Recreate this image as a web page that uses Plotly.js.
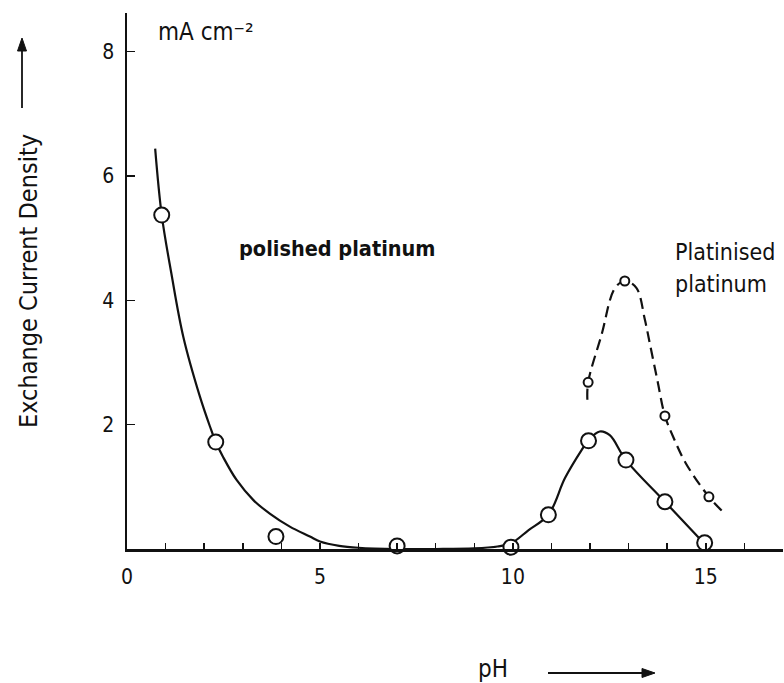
<!DOCTYPE html>
<html>
<head>
<meta charset="utf-8">
<script src="https://cdn.plot.ly/plotly-3.0.1.min.js"></script>
<style>html,body{margin:0;padding:0;background:#fff;}#chart{width:784px;height:683px;}</style>
</head>
<body>
<div id="chart"></div>
<script>
// Measured points, polished platinum
var polishedX = [0.90, 2.30, 3.86, 7.0, 9.95, 10.92, 11.96, 12.93, 13.94, 14.97];
var polishedY = [5.37, 1.72, 0.20, 0.05, 0.03, 0.55, 1.74, 1.43, 0.76, 0.10];
// Fitted curve, polished platinum
var polishedCurveX = [0.73, 0.90, 1.15, 1.46, 1.89, 2.15, 2.30, 2.49, 2.84, 3.27, 3.70, 4.22, 4.74, 5.0, 5.5, 6.0, 7.0, 8.0, 9.0, 9.6, 9.95, 10.4, 10.92, 11.35, 11.78, 11.96, 12.25, 12.51, 12.93, 13.94, 14.97];
var polishedCurveY = [6.44, 5.37, 4.43, 3.41, 2.45, 1.97, 1.72, 1.48, 1.11, 0.79, 0.57, 0.36, 0.20, 0.12, 0.05, 0.02, 0.0, 0.0, 0.01, 0.04, 0.09, 0.30, 0.55, 1.14, 1.59, 1.75, 1.89, 1.83, 1.43, 0.76, 0.08];
// Measured points, platinised platinum
var platinisedX = [11.95, 12.9, 13.94, 15.08];
var platinisedY = [2.68, 4.31, 2.14, 0.84];
// Fitted curve, platinised platinum
var platinisedCurveX = [11.93, 11.95, 12.3, 12.64, 12.9, 13.2, 13.42, 13.55, 13.74, 13.94, 14.15, 14.48, 15.08, 15.49];
var platinisedCurveY = [2.40, 2.68, 3.45, 4.19, 4.31, 4.20, 3.69, 3.30, 2.73, 2.14, 1.81, 1.38, 0.84, 0.57];
// Ticks
var xTickVals = [0, 5, 10, 15];
var xTickText = ['0', '5', '10', '15'];
var yTickVals = [2, 4, 6, 8];
var yTickText = ['2', '4', '6', '8'];

var F = "'DejaVu Sans Condensed', 'Liberation Sans Narrow', sans-serif";
var ink = '#111';

// plot-area geometry helpers (pixel -> paper) for decorations outside the axes
var L = 127, T = 13, W = 656, H = 536;
function px(p) { return (p - L) / W; }
function py(p) { return (T + H - p) / H; }

var traces = [
  {x: polishedCurveX, y: polishedCurveY, mode: 'lines', line: {color: ink, width: 2.2, shape: 'spline', smoothing: 1}, cliponaxis: false, hoverinfo: 'skip', showlegend: false},
  {x: platinisedCurveX, y: platinisedCurveY, mode: 'lines', line: {color: ink, width: 2.2, shape: 'spline', smoothing: 1, dash: '11px,6px'}, cliponaxis: false, hoverinfo: 'skip', showlegend: false},
  {x: polishedX, y: polishedY, mode: 'markers', name: 'polished platinum', marker: {symbol: 'circle', size: 15, color: '#fff', line: {color: ink, width: 2}}, cliponaxis: false, showlegend: false},
  {x: platinisedX, y: platinisedY, mode: 'markers', name: 'Platinised platinum', marker: {symbol: 'circle', size: 9, color: '#fff', line: {color: ink, width: 2}}, cliponaxis: false, showlegend: false}
];

var layout = {
  width: 784, height: 683,
  margin: {l: L, r: 784 - L - W, t: T, b: 683 - T - H},
  paper_bgcolor: '#fff', plot_bgcolor: '#fff',
  font: {family: F, color: ink, size: 20},
  showlegend: false,
  xaxis: {
    range: [0, 17], showgrid: false, zeroline: false,
    showline: true, linecolor: ink, linewidth: 2.5,
    ticks: 'inside', ticklen: 6, tickwidth: 1.5, tickcolor: ink,
    tickmode: 'array', tickvals: xTickVals, ticktext: xTickText,
    minor: {dtick: 1, tick0: 0, ticks: 'inside', ticklen: 6, tickwidth: 1.5, tickcolor: ink, showgrid: false},
    tickfont: {family: F, size: 21, color: ink}, ticklabelstandoff: 7
  },
  yaxis: {
    range: [0, 8.62], showgrid: false, zeroline: false,
    showline: true, linecolor: ink, linewidth: 2.5,
    ticks: 'inside', ticklen: 8, tickwidth: 1.5, tickcolor: ink,
    tickmode: 'array', tickvals: yTickVals, ticktext: yTickText,
    tickfont: {family: F, size: 21, color: ink}, ticklabelstandoff: 6,
    title: {text: 'Exchange Current Density', font: {family: F, size: 25, color: ink}, standoff: 58}
  },
  annotations: [
    {xref: 'paper', yref: 'paper', x: px(156), y: py(32), xanchor: 'left', yanchor: 'middle', text: 'mA cm\u207B\u00B2', showarrow: false, font: {family: F, size: 24, color: ink}},
    {xref: 'x', yref: 'y', x: 2.85, y: 4.84, xanchor: 'left', yanchor: 'middle', text: 'polished platinum', showarrow: false, font: {family: F, size: 21.5, color: ink, weight: 'bold'}},
    {xref: 'x', yref: 'y', x: 14.15, y: 4.78, xanchor: 'left', yanchor: 'middle', text: 'Platinised', showarrow: false, font: {family: F, size: 23, color: ink}},
    {xref: 'x', yref: 'y', x: 14.15, y: 4.26, xanchor: 'left', yanchor: 'middle', text: 'platinum', showarrow: false, font: {family: F, size: 23, color: ink}},
    {xref: 'paper', yref: 'paper', x: px(493), y: py(669), xanchor: 'center', yanchor: 'middle', text: 'pH', showarrow: false, font: {family: F, size: 24, color: ink}}
  ],
  shapes: [
    // x-direction arrow next to "pH"
    {type: 'line', xref: 'paper', yref: 'paper', x0: px(548), y0: py(673), x1: px(644), y1: py(673), line: {color: ink, width: 1.8}},
    {type: 'path', xref: 'paper', yref: 'paper', path: 'M ' + px(655) + ',' + py(673) + ' L ' + px(642) + ',' + py(668.5) + ' L ' + px(642) + ',' + py(677.5) + ' Z', fillcolor: ink, line: {color: ink, width: 1}},
    // y-direction arrow above the y title
    {type: 'line', xref: 'paper', yref: 'paper', x0: px(22), y0: py(108), x1: px(22), y1: py(49), line: {color: ink, width: 1.8}},
    {type: 'path', xref: 'paper', yref: 'paper', path: 'M ' + px(22) + ',' + py(38) + ' L ' + px(17.5) + ',' + py(51) + ' L ' + px(26.5) + ',' + py(51) + ' Z', fillcolor: ink, line: {color: ink, width: 1}}
  ]
};

Plotly.newPlot('chart', traces, layout, {staticPlot: true, displayModeBar: false});
</script>
</body>
</html>
